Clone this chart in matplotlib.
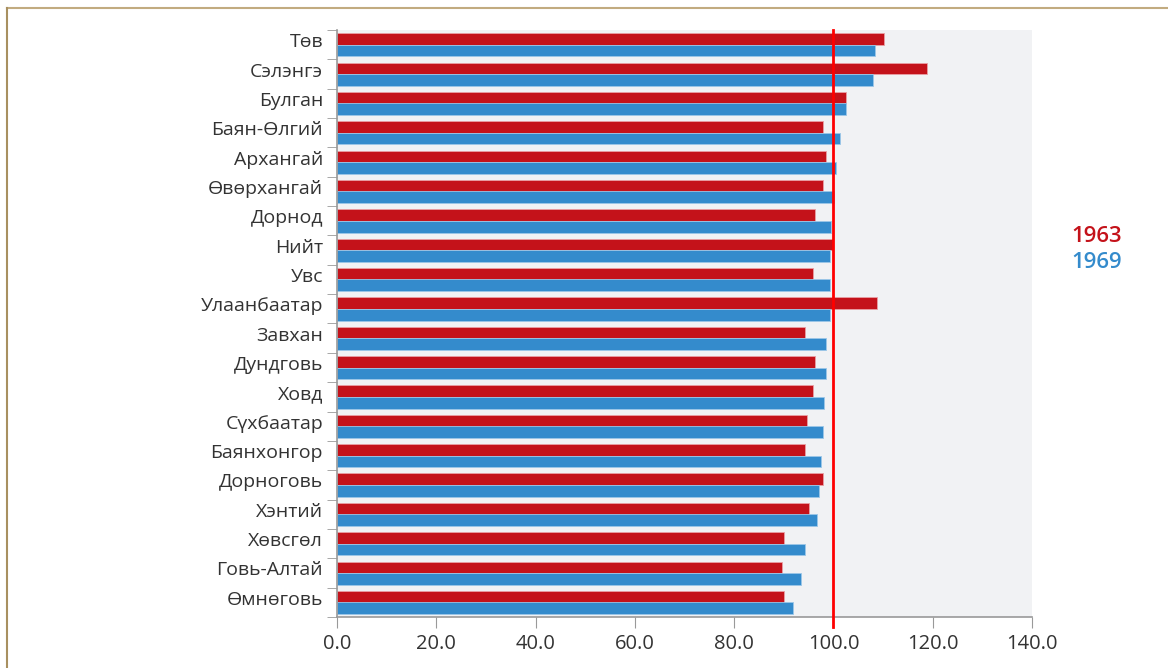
import numpy as np
import matplotlib.pyplot as plt
import matplotlib.transforms as mtransforms
from matplotlib.lines import Line2D

plt.rcParams['font.family'] = ['Open Sans', 'DejaVu Sans']

regions = ["Төв", "Сэлэнгэ", "Булган", "Баян-Өлгий", "Архангай", "Өвөрхангай",
           "Дорнод", "Нийт", "Увс", "Улаанбаатар", "Завхан", "Дундговь", "Ховд",
           "Сүхбаатар", "Баянхонгор", "Дорноговь", "Хэнтий", "Хөвсгөл",
           "Говь-Алтай", "Өмнөговь"]
v1963 = [110.2, 118.8, 102.5, 97.8, 98.6, 97.8, 96.2, 99.9, 95.8, 108.7,
         94.3, 96.2, 95.8, 94.7, 94.3, 97.8, 95.1, 90.0, 89.6, 90.0]
v1969 = [108.3, 107.9, 102.5, 101.3, 100.5, 100.1, 99.6, 99.3, 99.3, 99.3,
         98.6, 98.6, 98.2, 97.8, 97.4, 97.0, 96.6, 94.3, 93.5, 91.9]
xticks = [0, 20, 40, 60, 80, 100, 120, 140]

red = "#c4121a"
blue = "#348bcc"
gray = "#999999"
txt = "#333333"

fig = plt.figure(figsize=(11.68, 6.68), dpi=100)
ax = fig.add_axes([337/1168, 1 - 617/668, 695/1168, 587/668])
ax.set_facecolor("#f1f2f4")

y = np.arange(len(regions))
ax.barh(y - 0.19, v1963, height=0.4, color=red, edgecolor="#e9a0a4", linewidth=0.6)
ax.barh(y + 0.2, v1969, height=0.4, color=blue, edgecolor="#9cc7e8", linewidth=0.6)

ax.set_ylim(len(regions) - 0.5, -0.5)
ax.set_xlim(0, 140)
ax.axvline(100, ymin=-0.017, ymax=1, color="#ff0000", lw=2, clip_on=False, zorder=5)

ax.set_yticks(y)
ax.set_yticklabels(regions, fontsize=14, color=txt)
ax.set_yticks(np.arange(len(regions) + 1) - 0.5, minor=True)
ax.tick_params(axis="y", which="major", length=0, pad=10)
ax.tick_params(axis="y", which="minor", length=7, color=gray)
# baseline a bit below band centre, as in the original
shift = mtransforms.ScaledTranslation(0, -2.5/100, fig.dpi_scale_trans)
for lab in ax.get_yticklabels():
    lab.set_va("baseline")
    lab.set_transform(lab.get_transform() + shift)

ax.set_xticks(xticks)
ax.set_xticklabels([f"{t:.1f}" for t in xticks], fontsize=14.5, color=txt)
ax.tick_params(axis="x", length=8, color=gray, pad=4)

for s in ["top", "right"]:
    ax.spines[s].set_visible(False)
for s in ["left", "bottom"]:
    ax.spines[s].set_color(gray)
    ax.spines[s].set_linewidth(1.2)

fig.text(1122/1168, 1 - 236/668, "1963", color=red, fontsize=16,
         fontweight="semibold", ha="right", va="center")
fig.text(1122/1168, 1 - 263/668, "1969", color=blue, fontsize=16,
         fontweight="semibold", ha="right", va="center")

# frame lines
fig.add_artist(Line2D([7/1168, 1], [1 - 8/668, 1 - 8/668], color="#c2ab80", lw=1.5))
fig.add_artist(Line2D([7/1168, 7/1168], [0, 1 - 8/668], color="#a89060", lw=1.5))

fig.savefig("out.png", dpi=100)
